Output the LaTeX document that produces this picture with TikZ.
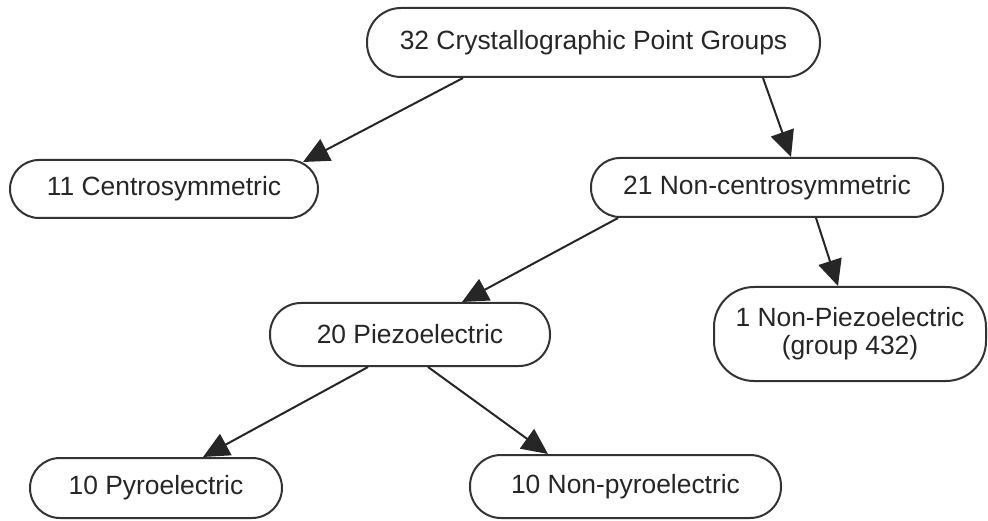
\documentclass[tikz,border=0pt]{standalone}
\usepackage{fontspec}
\setmainfont{Liberation Sans}
\usetikzlibrary{arrows.meta}
\begin{document}
\begin{tikzpicture}[x=1bp,y=-1bp,
  pill/.style={draw=black!80, line width=2bp, fill=white, text=black!85,
    inner sep=0pt, align=center, font=\fontsize{26.5}{28}\selectfont},
  link/.style={draw=black!85, line width=2bp,
    -{Triangle[length=26bp,width=24bp]}, shorten >=0pt}]
\useasboundingbox (0,0) rectangle (988,521);
\node[pill, minimum width=453bp, minimum height=69bp, rounded corners=34bp] (top) at (593.5,42.5) {32 Crystallographic Point Groups};
\node[pill, minimum width=308bp, minimum height=58bp, rounded corners=29bp] (centro) at (164,189) {11 Centrosymmetric};
\node[pill, minimum width=352bp, minimum height=59bp, rounded corners=29bp] (noncentro) at (767,187.5) {21 Non-centrosymmetric};
\node[pill, minimum width=280bp, minimum height=63bp, rounded corners=31bp] (piezo) at (410,334.5) {20 Piezoelectric};
\node[pill, minimum width=272bp, minimum height=94bp, rounded corners=40bp] (nonpiezo) at (850,334) {1 Non-Piezoelectric\\(group 432)};
\node[pill, minimum width=252bp, minimum height=60bp, rounded corners=30bp] (pyro) at (156,488) {10 Pyroelectric};
\node[pill, minimum width=311bp, minimum height=63bp, rounded corners=31bp] (nonpyro) at (625.5,486.5) {10 Non-pyroelectric};
\draw[link] ([xshift=-130.5bp]top.south) -- ([xshift=139bp,yshift=-3bp]centro.north);
\draw[link] ([xshift=169.5bp]top.south) -- ([xshift=24bp]noncentro.north);
\draw[link] ([xshift=-149bp]noncentro.south) -- ([xshift=52bp]piezo.north);
\draw[link] ([xshift=49bp]noncentro.south) -- ([xshift=-12bp]nonpiezo.north);
\draw[link] ([xshift=-42bp]piezo.south) -- ([xshift=47bp]pyro.north);
\draw[link] ([xshift=18bp]piezo.south) -- ([xshift=-77.5bp]nonpyro.north);
\end{tikzpicture}
\end{document}
